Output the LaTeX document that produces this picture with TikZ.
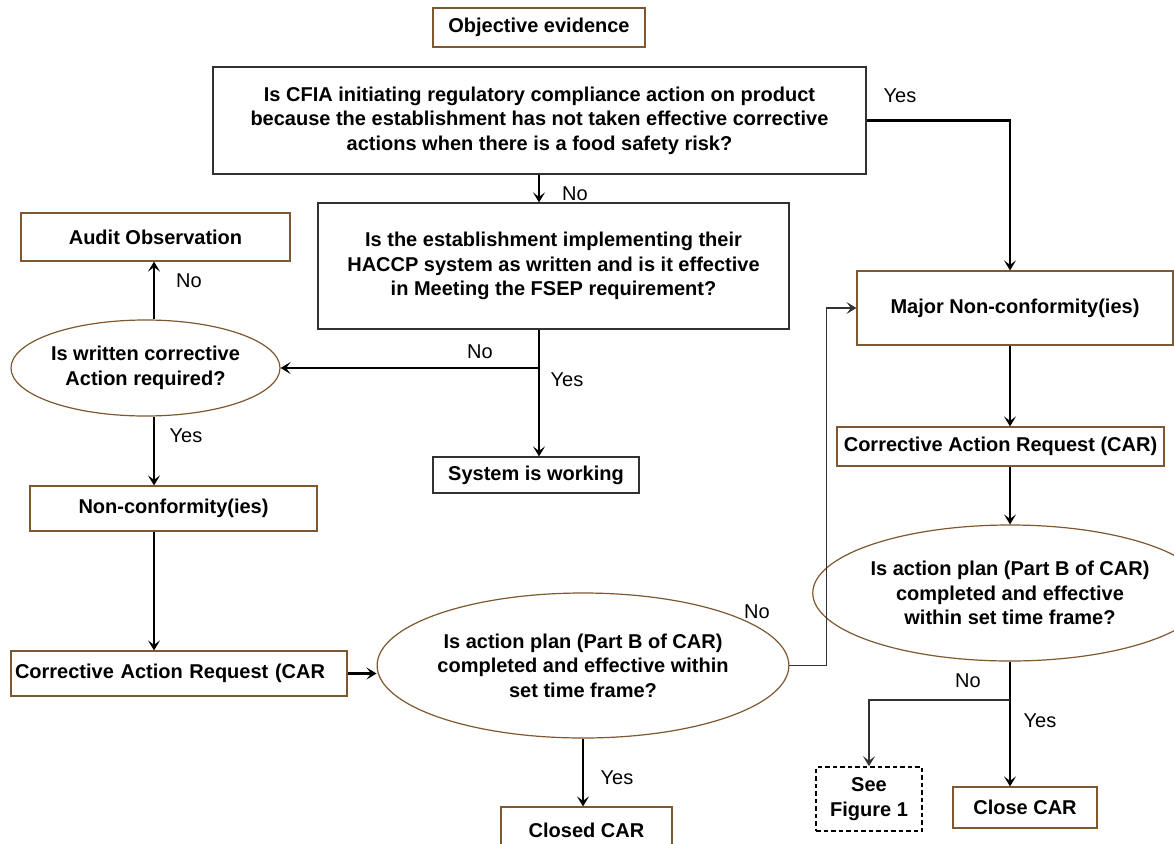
\documentclass[tikz,border=0pt]{standalone}
\usepackage{fontspec}
\setmainfont{Liberation Sans}
\usetikzlibrary{shapes.geometric,arrows.meta,calc}
\definecolor{brownb}{RGB}{125,88,48}
\definecolor{darkb}{RGB}{50,50,50}
\begin{document}
\begin{tikzpicture}[x=1pt,y=-1pt,
  every node/.style={font=\fontsize{20}{24.5}\selectfont\bfseries, inner sep=0pt, align=center},
  bbox/.style={draw=brownb, line width=1.2pt, rectangle, fill=white},
  qbox/.style={draw=darkb, line width=1.2pt, rectangle, fill=white},
  ell/.style={draw=brownb, line width=1.2pt, ellipse, fill=white},
  lbl/.style={font=\fontsize{20}{24}\selectfont\mdseries},
  tip/.style={-{Stealth[length=10pt,width=12pt,inset=4.5pt]}},
  arr/.style={line width=2.6pt, tip},
  arrt/.style={line width=2pt, tip},
  thinl/.style={line width=1.3pt, draw=darkb, tip}
]
\useasboundingbox (0,0) rectangle (1174,843);
\fill[white] (0,0) rectangle (1174,843);
\clip (0,0) rectangle (1174,843);

\node[bbox, minimum width=212, minimum height=39] (obj) at (539,27.5) {Objective evidence};
\node[qbox, minimum width=653, minimum height=107] (q1) at (539.5,120.5)
  {Is CFIA initiating regulatory compliance action on product\\because the establishment has not taken effective corrective\\actions when there is a food safety risk?};
\node[qbox, minimum width=471, minimum height=126] (q2) at (553.5,266)
  {Is the establishment implementing their\\HACCP system as written and is it effective\\in Meeting the FSEP requirement?};
\node[bbox, minimum width=269, minimum height=48] (audit) at (155.5,237) {Audit Observation};
\node[ell, minimum width=269, minimum height=96] (ellL) at (145.5,368) {Is written corrective\\Action required?};
\node[qbox, minimum width=206, minimum height=36] (sys) at (536,475) {System is working};
\node[bbox, minimum width=287, minimum height=45] (nonc) at (173.5,508.5) {Non-conformity(ies)};
\node[bbox, text width=328, inner xsep=4pt, align=left, minimum height=45] (carL) at (179,673.5) {Corrective Action Request (CAR};
\node[ell, minimum width=376, minimum height=145] (ellM) at (583,665.5)
  {Is action plan (Part B of CAR)\\completed and effective within\\set time frame?};
\node[bbox, minimum width=171, minimum height=46] (closed) at (586.5,830) {Closed CAR};
\node[bbox, minimum width=316, minimum height=74] (maj) at (1015,308) {Major Non-conformity(ies)};
\node[bbox, minimum width=327, minimum height=39] (carR) at (1000.5,446.5) {Corrective Action Request (CAR)};
\node[ell, minimum width=344, minimum height=136] (ellR) at (1010,593)
  {Is action plan (Part B of CAR)\\completed and effective\\within set time frame?};
\node[bbox, minimum width=144, minimum height=41] (closeR) at (1025,807.5) {Close CAR};
\node[draw=black, dash pattern=on 4.5pt off 3pt, line width=1.6pt, minimum width=106, minimum height=64] (seeF) at (869,799) {See\\Figure 1};

\coordinate (xm) at (539,0);
\coordinate (xl) at (154,0);
\coordinate (xr) at (1010,0);
\coordinate (jL) at (539,368);
\coordinate (jR) at (1010,700);

% connectors
\draw[arrt] (xm |- q1.south) -- (xm |- q2.north);
\draw[arr] (q1.east) -| (xr |- maj.north);
\draw[arr] (xm |- q2.south) -- (xm |- sys.north);
\draw[arr] (jL) -- (ellL.east);
\draw[arr] (xl |- ellL.north) -- (xl |- audit.south);
\draw[arr] (xl |- ellL.south) -- (xl |- nonc.north);
\draw[arr] (xl |- nonc.south) -- (xl |- carL.north);
\draw[arr] (carL.east) -- (ellM.west |- carL.east);
\draw[arr] (ellM.south) -- (ellM.south |- closed.north);
\draw[thinl] (ellM.east) -- ++(37,0) |- (maj.west);
\draw[arr] (xr |- maj.south) -- (xr |- carR.north);
\draw[arr] (xr |- carR.south) -- (xr |- ellR.north);
\draw[arr] (xr |- ellR.south) -- (xr |- closeR.north);
\draw[thinl] (jR) -| (seeF.north);

% labels
\node[lbl] (l1) at (575,194) {No};
\node[lbl] (l2) at (900,96) {Yes};
\node[lbl] (l3) at (189,281) {No};
\node[lbl] (l4) at (480,352) {No};
\node[lbl] (l5) at (567,380) {Yes};
\node[lbl] (l6) at (186,436) {Yes};
\node[lbl] (l7) at (757,612) {No};
\node[lbl] (l8) at (617,778) {Yes};
\node[lbl] (l9) at (968,681) {No};
\node[lbl] (l10) at (1040,721) {Yes};
\end{tikzpicture}
\end{document}
